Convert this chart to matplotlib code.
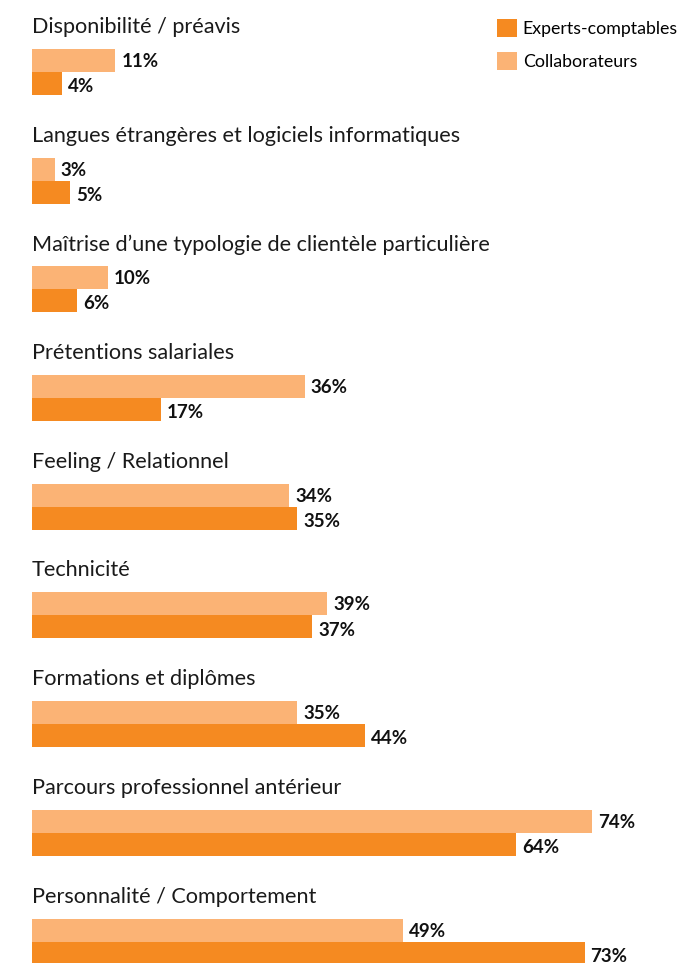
import matplotlib.pyplot as plt
from matplotlib.patches import Patch

plt.rcParams['font.family'] = ['Lato', 'DejaVu Sans']

categories = [
    "Disponibilité / préavis",
    "Langues étrangères et logiciels informatiques",
    "Maîtrise d’une typologie de clientèle particulière",
    "Prétentions salariales",
    "Feeling / Relationnel",
    "Technicité",
    "Formations et diplômes",
    "Parcours professionnel antérieur",
    "Personnalité / Comportement",
]
collaborateurs = [11, 3, 10, 36, 34, 39, 35, 74, 49]
experts = [4, 5, 6, 17, 35, 37, 44, 64, 73]

c_light = "#FBB375"
c_dark = "#F58A21"

W, H = 683, 963
fig = plt.figure(figsize=(W / 100, H / 100), dpi=100)
ax = fig.add_axes([0, 0, 1, 1])

# x in percent, 0 at 32px, ~7.57 px per point ; y in pixels from the top
px = 7.57
ax.set_xlim(-32 / px, (W - 32) / px)
ax.set_ylim(H, 0)
ax.axis("off")

step = 108.7
bh = 23
for i, (cat, c, e) in enumerate(zip(categories, collaborateurs, experts)):
    y0 = i * step
    ax.text(0, y0 + 27, cat, fontsize=15.6, va="center", ha="left", color="#1a1a1a")
    yl = y0 + 49 + bh / 2
    yd = y0 + 72 + bh / 2
    ax.barh(yl, c, height=bh, color=c_light, left=0)
    ax.barh(yd, e, height=bh, color=c_dark, left=0)
    ax.text(c + 6 / px, yl + 1, f"{c}%", fontsize=13.5, fontweight="bold",
            va="center", ha="left", color="#111111")
    ax.text(e + 6 / px, yd + 3, f"{e}%", fontsize=13.5, fontweight="bold",
            va="center", ha="left", color="#111111")

handles = [Patch(facecolor=c_dark, label="Experts-comptables"),
           Patch(facecolor=c_light, label="Collaborateurs")]
fig.legend(handles=handles, loc="upper left", bbox_to_anchor=(497 / W, 1 - 19 / H),
           frameon=False, fontsize=12.8, handlelength=1.15, handleheight=1.15,
           handletextpad=0.3, labelspacing=0.85, borderaxespad=0, borderpad=0)

fig.savefig("out.png", dpi=100)
